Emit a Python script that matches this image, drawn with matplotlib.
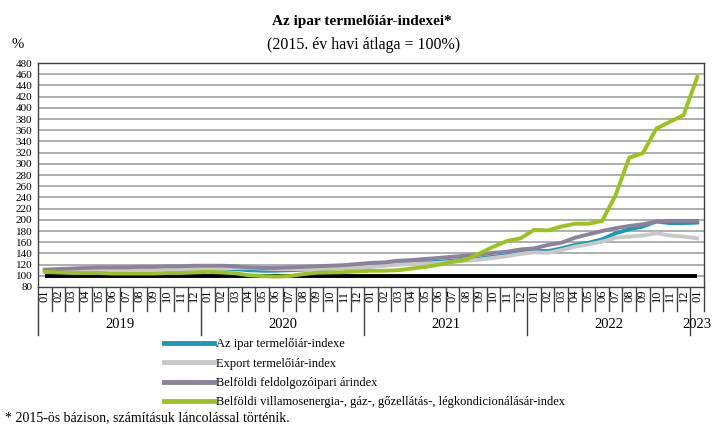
import matplotlib
matplotlib.use("Agg")
import matplotlib.pyplot as plt
import matplotlib.transforms as mtransforms
from matplotlib.lines import Line2D

plt.rcParams['font.family'] = ['Liberation Serif', 'DejaVu Serif']

years = ["2019", "2020", "2021", "2022", "2023"]
months = ["01", "02", "03", "04", "05", "06", "07", "08", "09", "10", "11", "12"] * 4 + ["01"]

ipar = [109, 110, 111, 112, 112, 112, 112, 112, 112, 113, 113, 113,
        113, 113, 112, 110, 109, 109, 110, 111, 112, 113, 114, 115,
        117, 119, 121, 122, 124, 125, 127, 129, 131, 134, 137, 141,
        145, 144, 149, 155, 159, 165, 176, 183, 188, 197, 194, 194,
        195]
export = [108, 109, 110, 111, 111, 111, 111, 111, 111, 112, 112, 112,
          113, 113, 114, 114, 113, 112, 112, 112, 112, 113, 114, 115,
          116, 118, 120, 121, 122, 123, 125, 127, 129, 132, 135, 139,
          142, 141, 146, 152, 156, 161, 168, 170, 172, 176, 172, 170,
          167]
feldolg = [111, 112, 113, 114, 115, 115, 115, 116, 116, 117, 117, 118,
           118, 118, 117, 115, 114, 114, 115, 116, 117, 118, 119, 121,
           123, 124, 127, 128, 130, 132, 134, 136, 138, 141, 143, 147,
           149, 155, 159, 168, 174, 180, 185, 189, 192, 197, 198, 198,
           198]
energia = [107, 106, 105, 105, 105, 104, 104, 104, 104, 105, 105, 106,
           107, 106, 104.5, 101, 99.5, 98.5, 99.5, 103, 105.5, 106, 106.5, 108,
           109, 109, 110, 113, 116, 120, 125, 129, 140, 152, 162, 167,
           182, 181, 188, 193, 193, 198, 244, 311, 319, 363, 375, 387,
           455]
base = [100] * len(months)

labels = ["Az ipar termelőiár-indexe",
          "Export termelőiár-index",
          "Belföldi feldolgozóipari árindex",
          "Belföldi villamosenergia-, gáz-, gőzellátás-, légkondicionálásár-index"]
colors = ["#1b9ab8", "#c8c8c8", "#8d819d", "#9cc31c"]

W, H = 727, 428
fig = plt.figure(figsize=(W / 100, H / 100), dpi=100)
L, R, T, B = 38, 704, 63, 287
ax = fig.add_axes([L / W, 1 - B / H, (R - L) / W, (B - T) / H])

x = list(range(len(months)))
ax.set_xlim(-0.5, len(months) - 0.5)
ax.set_ylim(80, 480)
ax.set_yticks(range(80, 481, 20))
for yv in range(100, 480, 20):
    ax.axhline(yv, color="#a8a8a8", lw=1.3, zorder=1)

ax.plot(x, base, color="black", lw=2.8, zorder=2, solid_capstyle="butt")
series = [ipar, export, feldolg, energia]
order = [1, 0, 2, 3]
for i in order:
    ax.plot(x, series[i], color=colors[i], lw=2.8, zorder=3 + i,
            solid_joinstyle="round")

for s in ax.spines.values():
    s.set_color("#404040")
    s.set_linewidth(1.0)

ax.tick_params(axis="y", length=0, pad=4, labelsize=8)
ax.set_xticks(x)
ax.set_xticklabels(months, rotation=90, fontsize=9)
ax.tick_params(axis="x", length=0, pad=2)

trans = mtransforms.blended_transform_factory(ax.transData, ax.transAxes)
ax_h = (B - T)
month_sep = -(311 - B) / ax_h
year_sep = -(335 - B) / ax_h
for k in range(len(months) + 1):
    xx = k - 0.5
    is_year = (k % 12 == 0)
    y1 = year_sep if is_year else month_sep
    ax.plot([xx, xx], [0, y1], color="#404040", lw=1.0, transform=trans,
            clip_on=False)

year_y = -(325 - B) / ax_h
for j, yr in enumerate(years):
    if j < 4:
        cx = j * 12 + 5.5
    else:
        cx = 48
    ax.text(cx, year_y, yr, transform=trans, ha="center", va="center",
            fontsize=10.5)

fig.text(362 / W, 1 - 21 / H, "Az ipar termelőiár-indexei*", ha="center",
         va="center", fontsize=11, fontweight="bold")
fig.text(364 / W, 1 - 45 / H, "(2015. év havi átlaga = 100%)", ha="center",
         va="center", fontsize=11.5)
fig.text(18 / W, 1 - 45 / H, "%", ha="center", va="center", fontsize=10.5)

handles = [Line2D([], [], color=c, lw=3.5) for c in colors]
fig.legend(handles, labels, loc="upper left",
           bbox_to_anchor=(164 / W, 1 - 338 / H), frameon=False,
           fontsize=9, handlelength=4.0, handletextpad=0.15,
           labelspacing=0.6, borderaxespad=0, borderpad=0)

fig.text(5 / W, 1 - 418 / H,
         "* 2015-ös bázison, számításuk láncolással történik.",
         ha="left", va="center", fontsize=10)

fig.savefig("out.png", dpi=100)
